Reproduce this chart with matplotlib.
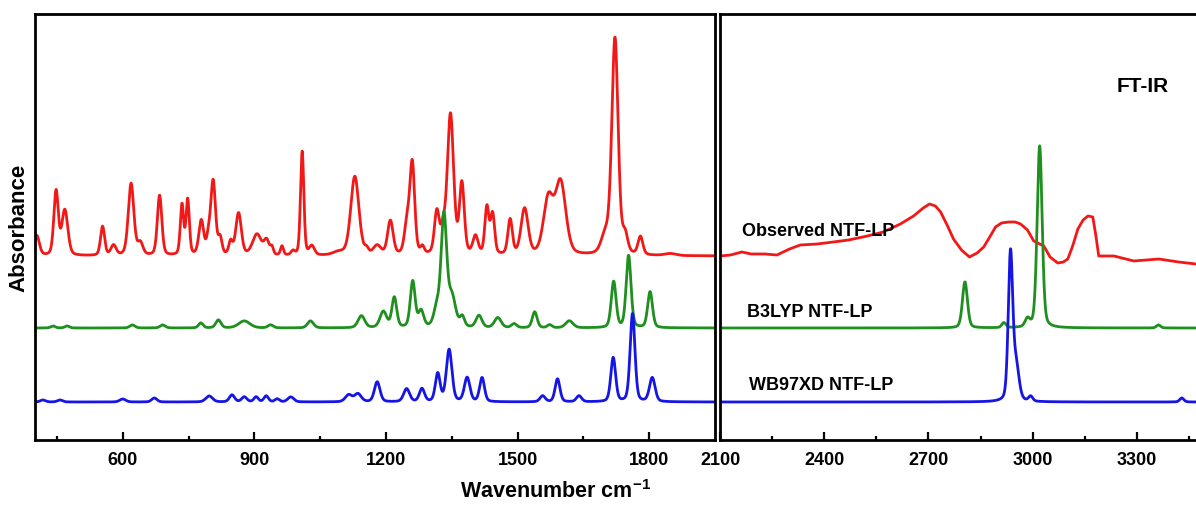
import numpy as np
import matplotlib.pyplot as plt

plt.rcParams['font.family'] = ['Liberation Sans', 'DejaVu Sans']
plt.rcParams['mathtext.fontset'] = 'custom'
plt.rcParams['mathtext.rm'] = 'Liberation Sans'
plt.rcParams['mathtext.bf'] = 'Liberation Sans:bold'

# observed FT-IR, fingerprint region: peak position (cm-1), height, fwhm
obs_pos = [404, 448, 468, 554, 579, 619, 640, 684, 735, 748, 779, 795, 806, 822, 846, 864,
           906, 928, 940, 963, 988, 1009, 1031, 1092, 1129, 1156, 1180, 1210, 1248, 1260,
           1283, 1316, 1330, 1347, 1373, 1404, 1430, 1443, 1483, 1516, 1570, 1598, 1700,
           1722, 1745, 1780, 1848]
obs_h = [20, 64, 45, 29, 10, 72, 12, 60, 50, 55, 34, 14, 74, 16, 13, 42,
         21, 14, 7, 9, 4, 104, 9, 3, 79, 5, 9, 34, 30, 90,
         7, 42, 20, 140, 70, 18, 47, 40, 35, 46, 55, 72, 18,
         216, 18, 18, 2]
obs_w = [14, 12, 16, 11, 14, 15, 14, 12, 9, 9, 13, 10, 13, 10, 10, 15,
         24, 14, 8, 8, 10, 9, 14, 30, 22, 10, 20, 15, 14, 13,
         10, 13, 12, 17, 13, 14, 11, 11, 12, 19, 26, 28, 22,
         17, 14, 13, 30]

# observed FT-IR, 2100-3470 region read point by point
obs_hi_x = [2100, 2130, 2163, 2190, 2230, 2264, 2300, 2331, 2380, 2426, 2470, 2524, 2570,
            2619, 2657, 2685, 2703, 2720, 2735, 2755, 2772, 2795, 2818, 2840, 2859, 2878,
            2893, 2910, 2931, 2950, 2965, 2985, 3003, 3032, 3050, 3072, 3088, 3101, 3115,
            3130, 3145, 3159, 3173, 3182, 3190, 3234, 3291, 3363, 3420, 3470]
obs_hi_y = [0, 1, 4, 2, 2, 1, 7, 11, 12, 14, 16, 20, 24,
            32, 40, 48, 52, 50, 44, 30, 17, 6, -1, 3, 9, 20,
            29, 33, 34, 34, 32, 26, 15, 10, -1, -7, -6, -3, 10,
            27, 36, 40, 39, 20, 0, 0, -5, -3, -6, -8]

# B3LYP computed spectrum
b3_pos = [441, 473, 622, 691, 778, 818, 877, 937, 1028, 1144, 1194, 1219, 1261, 1280, 1316,
          1332, 1350, 1374, 1412, 1455, 1492, 1539, 1573, 1618, 1719, 1753, 1802,
          2805, 2917, 2985, 3020, 3362]
b3_h = [2, 2, 3, 3, 5, 8, 7, 3, 7, 12, 16, 30, 46, 16, 18,
        110, 30, 10, 12, 10, 4, 16, 3, 7, 46, 72, 36,
        46, 5, 8, 182, 3]
b3_w = [12, 12, 14, 14, 12, 14, 30, 14, 16, 18, 18, 13, 13, 14, 16,
        15, 20, 12, 16, 18, 14, 13, 12, 20, 13, 13, 13,
        17, 14, 16, 17, 14]

# WB97XD computed spectrum
wb_pos = [418, 457, 600, 672, 797, 849, 877, 904, 927, 952, 983, 1115, 1136, 1180, 1247,
          1282, 1318, 1344, 1385, 1419, 1557, 1591, 1640, 1718, 1762, 1807,
          2936, 2952, 2994, 3429]
wb_h = [2, 2, 3, 4, 6, 7, 5, 5, 6, 3, 5, 7, 8, 20, 13,
        13, 28, 52, 24, 24, 6, 23, 6, 44, 88, 24,
        146, 35, 5, 4]
wb_w = [14, 14, 16, 14, 18, 14, 14, 12, 12, 12, 16, 18, 18, 15, 16,
        14, 13, 15, 15, 13, 14, 13, 14, 13, 13, 15,
        15, 20, 14, 14]

# vertical stacking offsets
obs_off = 184
b3_off = 112
wb_off = 38


def broaden(x, pos, h, w, eta=0.3):
    y = np.zeros_like(x)
    for p, a, f in zip(pos, h, w):
        hw = f / 2.0
        lor = hw ** 2 / ((x - p) ** 2 + hw ** 2)
        gau = np.exp(-np.log(2) * ((x - p) / hw) ** 2)
        y += a * (eta * lor + (1 - eta) * gau)
    return y


fig = plt.figure(figsize=(11.96, 5.06), dpi=100)
ax1 = fig.add_axes([35 / 1196, 65 / 506, 680 / 1196, 426 / 506])
ax2 = fig.add_axes([720 / 1196, 65 / 506, 476 / 1196, 426 / 506])

red = '#f21818'
green = '#1f8f1f'
blue = '#1515e6'
lw = 2.0

x_lo = np.linspace(400, 1950, 4000)
x_hi = np.linspace(2100, 3470, 3000)

ax1.plot(x_lo, obs_off + broaden(x_lo, obs_pos, obs_h, obs_w), color=red, lw=lw)
ax1.plot(x_lo, b3_off + broaden(x_lo, b3_pos, b3_h, b3_w), color=green, lw=lw)
ax1.plot(x_lo, wb_off + broaden(x_lo, wb_pos, wb_h, wb_w), color=blue, lw=lw)

ax2.plot(obs_hi_x, obs_off + np.array(obs_hi_y), color=red, lw=lw)
ax2.plot(x_hi, b3_off + broaden(x_hi, b3_pos, b3_h, b3_w), color=green, lw=lw)
ax2.plot(x_hi, wb_off + broaden(x_hi, wb_pos, wb_h, wb_w), color=blue, lw=lw)

ax1.set_xlim(400, 1950)
ax2.set_xlim(2100, 3470)
ax1.set_xticks([600, 900, 1200, 1500, 1800])
ax1.set_xticks([450, 750, 1050, 1350, 1650], minor=True)
ax2.set_xticks([2100, 2400, 2700, 3000, 3300])
ax2.set_xticks([2250, 2550, 2850, 3150, 3450], minor=True)

for ax in (ax1, ax2):
    ax.set_ylim(0, 426)
    ax.set_yticks([])
    for s in ax.spines.values():
        s.set_linewidth(2.0)
        s.set_color('black')
    ax.tick_params(axis='x', direction='in', which='major', length=6, width=1.6,
                   labelsize=13, pad=8)
    ax.tick_params(axis='x', direction='in', which='minor', length=3, width=1.6)
    for lab in ax.get_xticklabels():
        lab.set_fontweight('bold')
ax2.spines['right'].set_visible(False)

ax2.text(2163, 209, 'Observed NTF-LP', fontsize=13, fontweight='bold', va='center')
ax2.text(2178, 128, 'B3LYP NTF-LP', fontsize=13, fontweight='bold', va='center')
ax2.text(2184, 55, 'WB97XD NTF-LP', fontsize=13, fontweight='bold', va='center')
ax2.text(3317, 354, 'FT-IR', fontsize=15, fontweight='bold', ha='center', va='center')

ax1.set_ylabel('Absorbance', fontsize=16, fontweight='bold', labelpad=4)
fig.text(556 / 1196, 1 - 492 / 506, r'Wavenumber cm$^{\mathbf{-1}}$', fontsize=15.5,
         fontweight='bold', ha='center', va='center')

fig.savefig('out.png', dpi=100)
